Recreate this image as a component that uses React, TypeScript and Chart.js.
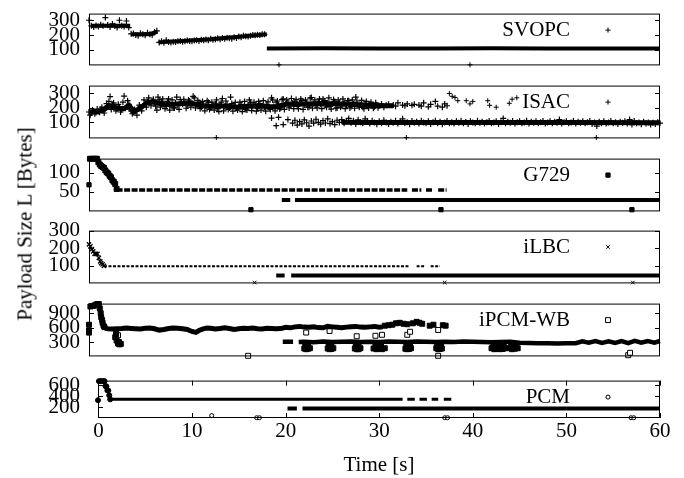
import { useEffect, useRef } from "react"
import { Chart, registerables } from "chart.js"
import { drawPoint } from "chart.js/helpers"

Chart.register(...registerables)

// ---------- data (time in s, payload size in bytes) ----------

const timeTicks = [0, 10, 20, 30, 40, 50, 60]

// SVOPC
const svopcTicks = [100, 200, 300]
const svopcEarlyStart = -1
const svopcEarlyStep = 0.25
const svopcEarly = [
  300, 262, 255, 265, 258, 270, 262, 318,
  268, 255, 275, 262, 250, 300, 262, 258,
  295, 250, 208, 210, 200, 195, 212, 205,
  198, 215, 205, 200, 220, 228, 150, 158,
  148, 165, 152, 150, 155, 152, 158, 160,
  155, 158, 162, 160, 158, 162, 165, 160,
  168, 165, 170, 165, 175, 168, 172, 178,
  172, 180, 175, 182, 178, 175, 185, 180,
  190, 185, 195, 192, 190, 195, 200, 198,
  202, 200, 205, 205,
]
const svopcLevelTime = [-0.8, 3.4, 3.45, 3.5, 5.5, 6.3, 6.4, 6.45, 12.0, 18.0]
const svopcLevelSize = [262, 262, null, 205, 205, 222, null, 150, 172, 205]
const svopcTailTime = [18, 24, 30, 36, 42, 48, 54, 60]
const svopcTailSize = [108, 110, 108, 109, 110, 108, 109, 108]
const svopcOddTime = [19.3, 39.7]
const svopcOddSize = [-2, -2]

// ISAC
const isacTicks = [100, 200, 300]
const isacUpperStart = -1
const isacUpperStep = 0.25
const isacUpper = [
  172, 165, 178, 168, 175, 190, 182, 200,
  215, 278, 225, 210, 195, 205, 188, 282,
  210, 225, 180, 168, 178, 195, 205, 212,
  230, 245, 238, 250, 235, 185, 255, 240,
  230, 210, 262, 222, 200, 235, 215, 258,
  225, 240, 215, 248, 230, 270, 222, 238,
  205, 225, 212, 240, 200, 218, 228, 195,
  222, 265, 210, 225, 200, 230, 215, 198,
  212, 225, 205, 190, 218, 235, 210, 222,
  198, 230, 215, 205, 225, 195, 270, 210,
  240, 218, 200, 262, 225, 238, 215, 232,
  245, 210, 228, 250, 220, 235, 205, 272,
  230, 215, 242, 225, 262, 218, 235, 210,
  228, 245, 200, 232, 215, 238, 220, 250,
  210, 228, 275, 215, 222, 205, 230, 212,
  225, 218, 208, 222, 215, 228, 205, 218,
  225, null, 220, 212, 235, null, 220, 215,
  228, null, 218, 225, null, 220, 212, 235,
  null, 208, 225, null, 245, 212, null, 205,
  228, 215,
]
const isacUpperExtraStart = -0.875
const isacUpperExtraStep = 0.25
const isacUpperExtra = [
  150, 185, 160, 192, 170, 205, 165, 230,
  245, 190, 235, 180, 225, 172, 240, 198,
  250, 192, 160, 190, 150, 220, 180, 255,
  205, 270, 215, 260, 212, 275, 205, 262,
  195, 245, 185, 255, 200, 275, 190, 240,
  260, 198, 255, 205, 280, 200, 252, 195,
  245, 180, 250, 190, 240, 185, 255, 175,
  240, 180, 248, 190, 275, 178, 238, 185,
  240, 175, 245, 185, 255, 182, 240, 178,
  245, 185, 250, 178, 242, 190, 255, 180,
  248, 192, 258, 190, 255, 200, 265, 195,
  258, 195, 262, 190, 255, 205, 268, 198,
  255, 200, 262, 195, 250, 205, 270, 192,
  258, 198, 255, 205, 262, 195, 250, 200,
  255, 198, 248, 205, 252, 195, 245, 200,
  240, 198, 235, 202,
]
const isacUpperLevelTime = [
  -1, 0, 0.5, 1.2, 2.0, 2.7, 3.3, 3.8, 4.5, 5.2, 6.0, 7.0, 8.0, 9.0, 10.0,
  11.0, 12.0, 13.0, 14.0, 15.0, 16.0, 17.0, 18.0, 19.0, 20.0, 22.0, 24.0, 26.0, 28.0, 30.0, 31.5,
]
const isacUpperLevelSize = [
  170, 175, 185, 215, 200, 195, 215, 175, 200, 235, 240, 222, 225, 230, 232,
  215, 212, 215, 210, 205, 212, 215, 210, 208, 225, 228, 230, 228, 222, 215, 215,
]
const isacSparseTime = [37.5, 37.8, 38.1, 38.4, 39.3, 39.7, 40.0, 41.6, 41.8, 42.5, 43.9, 44.2, 44.7]
const isacSparseSize = [300, 280, 272, 250, 250, 228, 245, 250, 218, 205, 232, 260, 270]
const isacLowerStart = 18.5
const isacLowerStep = 0.25
const isacLower = [
  130, null, 78, 135, null, 85, null, 120,
  null, 95, 115, 82, 105, 90, 118, 98,
  75, 110, 95, 122, 100, 88, 112, 96,
  125, 92, 105, 85, 115, 100, 120, 95,
  108, 128, 98, 112, 90, 118, 102, 95,
  125, 108, 92, 112, 100, 88, 108, 95,
  115, 100, 90, 105, 98, 112, 92, 105,
  125, 95, 102, 88, 110, 98, 105, 92,
  112, 100, 95, 108, 90, 102, 112, 95,
  105, 88, 100, 110, 95, 102, 92, 108,
  98, 112, 95, 103, 90, 108, 100, 95,
  112, 98, 105, 92, 102, 110, 95, 100,
  108, 90, 102, 128, 95, 105, 98, 110,
  92, 102, 108, 95, 100, 112, 92, 105,
  98, 108, 95, 102, 110, 92, 100, 108,
  95, 105, 98, 120, 92, 102, 108, 95,
  100, 110, 92, 105, 98, 108, 95, 102,
  110, 90, 100, 75, 105, 95, 108, 92,
  100, 110, 95, 102, 90, 105, 98, 108,
  92, 120, 85, 110, 95, 100, 88, 105,
  92, 100, 85, 98, 90, 102, 95,
]
const isacLowerLevelTime = [26.0, 29.0, 40.0, 50.0, 60.0]
const isacLowerLevelSize = [102, 100, 100, 100, 98]
const isacOddTime = [12.6, 32.9, 53.2]
const isacOddSize = [-4, -4, -4]

// G729
const g729Ticks = [50, 100]
const g729StartTime = [-0.9, -0.7, -0.5, -0.3, -0.15, 0.0, 0.15, 0.3, 0.45, 0.6, 0.75, 0.9, 1.05, 1.2, 1.35, 1.5, 1.65, 1.8, 1.95]
const g729StartSize = [137, 137, 137, 137, 137, 128, 122, 118, 115, 113, 106, 101, 98, 92, 88, 80, 76, 70, 57]
const g729UpperTime = [1.95, 33.0, 33.25, 33.5, 34.5, 34.75, 35.0, 35.7, 36.0, 36.3, 37.2]
const g729UpperSize = [54, 54, null, 54, 54, null, 54, 54, null, 54, 54]
const g729LowerTime = [19.6, 20.5, 20.75, 21.0, 60]
const g729LowerSize = [28, 28, null, 28, 28]
const g729OddTime = [-1.0, 16.3, 36.6, 57.0]
const g729OddSize = [68, 2, 2, 2]

// iLBC
const ilbcTicks = [100, 200, 300]
const ilbcStartTime = [-1.0, -0.85, -0.7, -0.55, -0.4, -0.25, -0.1, 0.05, 0.2, 0.3, 0.45, 0.6]
const ilbcStartSize = [222, 210, 195, 182, 168, 168, 168, 145, 125, 115, 108, 100]
const ilbcUpperTime = [0.6, 33.2, 33.45, 34.0, 34.8, 35.1, 35.5, 36.5]
const ilbcUpperSize = [97, 97, null, 97, 97, null, 97, 97]
const ilbcLowerTime = [19.0, 19.9, 20.25, 20.6, 60]
const ilbcLowerSize = [45, 45, null, 45, 45]
const ilbcOddTime = [16.7, 37.0, 57.1]
const ilbcOddSize = [5, 5, 5]

// iPCM-WB
const ipcmTicks = [300, 600, 900]
const ipcmStartTime = [-1.0, -1.0, -1.0, -0.85, -0.7, -0.55, -0.4, -0.25, -0.1, 0.05, 0.15, 0.25, 0.3, 0.4, 0.45, 0.55, 0.65]
const ipcmStartSize = [660, 540, 495, 1040, 1050, 1055, 1060, 1080, 1090, 1090, 1000, 900, 820, 760, 700, 640, 610]
const ipcmUpperTime = [
  0.7, 1.0, 1.5, 2.0, 2.5, 3.0, 3.5, 4.0, 4.5, 5.0, 5.5, 6.0, 6.5, 7.0, 7.5, 8.0, 8.5, 9.0, 9.5, 10.0,
  10.4, 10.8, 11.2, 11.6, 12.0, 12.5, 13.0, 13.5, 14.0, 14.5, 15.0, 15.5, 16.0, 16.5, 17.0, 17.5, 18.0,
  18.5, 19.0, 19.5, 20.0, 20.5, 21.0, 21.5, 22.0, 22.5, 23.0, 23.5, 24.0, 24.5, 25.0, 25.5, 26.0, 26.5,
  27.0, 27.5, 28.0, 28.5, 29.0, 29.5, 30.0, 30.4,
]
const ipcmUpperSize = [
  585, 575, 570, 575, 580, 590, 582, 575, 570, 585,
  592, 575, 548, 560, 580, 590, 585, 575, 560, 520,
  500, 545, 575, 590, 585, 570, 580, 595, 580, 560,
  575, 585, 580, 590, 575, 570, 585, 580, 575, 580,
  605, 595, 615, 625, 610, 605, 615, 600, 595, 625,
  615, 605, 595, 610, 620, 625, 610, 605, 615, 625,
  610, 615,
]
const ipcmSparseTime = [30.6, 31.0, 31.4, 31.8, 32.2, 32.6, 33.0, 33.6, 34.0, 34.3, 34.6, 35.4, 35.8, 36.8, 37.1]
const ipcmSparseSize = [640, 650, 660, 690, 700, 680, 670, 690, 720, 700, 680, 640, 660, 650, 640]
const ipcmLowerTime = [
  19.7, 20.8, 21.1, 21.4,
  22, 23, 24, 25, 26, 27, 28, 29, 30, 31, 32, 33, 34, 35, 36, 37, 38, 39, 40, 41, 42, 43, 44, 45, 46, 47, 48, 49, 50, 51,
  51.7, 52.4, 53.1, 53.8, 54.5, 55.2, 55.9, 56.6, 57.3, 58.0, 58.7, 59.4, 60.0,
]
const ipcmLowerSize = [
  305, 305, null, 300,
  305, 295, 310, 300, 305, 310, 300, 305, 300, 310, 305, 300, 310, 305, 300,
  305, 300, 310, 305, 300, 295, 300, 305, 285, 280, 275, 272, 270, 272, 275,
  315, 285, 318, 282, 315, 280, 320, 278, 322, 285, 318, 288, 320,
]
const ipcmDipTime = [
  1.8, 1.95, 2.1, 2.25, 2.4, 1.9, 2.2,
  22.0, 22.2, 22.4, 22.6, 22.1, 22.4,
  24.5, 24.7, 24.9, 25.1, 24.6, 24.9,
  27.4, 27.6, 27.8, 28.0, 27.5, 27.8,
  29.4, 29.7, 30.0, 30.3, 30.6, 29.6, 30.2,
  32.8, 33.0, 33.2, 33.4, 32.9, 33.3,
  36.1, 36.3, 36.5, 36.7, 36.2, 36.6,
  42.0, 42.3, 42.6, 42.9, 43.2, 43.4, 42.2, 42.8, 43.3,
  43.9, 44.2, 44.5, 44.8, 44.1, 44.6,
]
const ipcmDipSize = [
  400, 330, 270, 250, 260, 460, 300,
  165, 150, 160, 170, 230, 220,
  165, 150, 155, 170, 230, 225,
  165, 150, 150, 170, 230, 225,
  165, 150, 160, 150, 170, 230, 225,
  160, 150, 155, 170, 230, 225,
  170, 150, 155, 165, 235, 225,
  170, 150, 160, 150, 155, 170, 230, 225, 230,
  170, 150, 160, 170, 230, 225,
]
const ipcmOpenTime = [1.9, 2.1, 22.2, 24.7, 27.6, 29.6, 30.3, 33.0, 33.3, 36.3, 56.8]
const ipcmOpenSize = [470, 440, 497, 530, 420, 430, 450, 450, 513, 550, 75]
const ipcmOddTime = [16.0, 36.3, 56.6]
const ipcmOddSize = [12, 12, 25]

// PCM
const pcmTicks = [200, 400, 600]
const pcmStartTime = [-0.05, 0.05, 0.2, 0.35, 0.5, 0.65, 0.75, 0.85, 0.95, 1.05, 1.15, 1.25]
const pcmStartSize = [330, 675, 675, 675, 675, 675, 585, 580, 508, 505, 418, 345]
const pcmUpperTime = [1.25, 32.5, 32.75, 33.0, 33.8, 34.05, 34.3, 35.1, 35.35, 35.6, 36.3, 36.6, 36.9, 37.7]
const pcmUpperSize = [345, 345, null, 345, 345, null, 345, 345, null, 345, 345, null, 345, 345]
const pcmLowerTime = [20.2, 21.2, 21.5, 21.8, 60]
const pcmLowerSize = [177, 177, null, 177, 177]
const pcmOddTime = [12.1, 16.9, 17.2, 37.0, 37.3, 56.9, 57.2]
const pcmOddSize = [50, 12, 12, 12, 12, 12, 12]

// ---------- look ----------

const WIDTH = 684
const HEIGHT = 478
const PAD = 20
const PLOT_RIGHT = 660
const KEY_TEXT_X = 570
const KEY_MARK_X = 608
const FONT_FAMILY = "'Liberation Serif', 'Times New Roman', serif"
const FONT_SIZE = 21

Chart.defaults.font.family = FONT_FAMILY
Chart.defaults.font.size = FONT_SIZE
Chart.defaults.color = "#000"

type Pt = { x: number; y: number | null }

const pts = (time: number[], size: (number | null)[]): Pt[] =>
  time.map((t, i) => ({ x: t, y: size[i] }))

const sampled = (start: number, step: number, size: (number | null)[]): Pt[] =>
  size.map((v, i) => ({ x: start + i * step, y: v }))

const strip = (data: Pt[], width: number, dash: number[] = []) => ({
  data,
  showLine: true,
  spanGaps: false,
  pointRadius: 0,
  borderColor: "#000",
  borderWidth: width,
  borderDash: dash,
  clip: 4,
})

const marks = (data: Pt[], style: string, radius: number, fill = "#000", width = 1) => ({
  data,
  showLine: false,
  pointStyle: style,
  pointRadius: radius,
  pointBorderWidth: width,
  pointBorderColor: "#000",
  pointBackgroundColor: fill,
  clip: 4,
})

interface PanelSpec {
  label: string
  top: number
  bottom: number
  left: number
  xMin: number
  yMin: number
  yMax: number
  yTicks: number[]
  keyStyle: string
  keyRadius: number
  keyFill: string
  datasets: any[]
  showTime?: boolean
}

const panels: PanelSpec[] = [
  {
    label: "SVOPC", top: 12, bottom: 67, left: 89, xMin: -1, yMin: -6, yMax: 345, yTicks: svopcTicks,
    keyStyle: "cross", keyRadius: 2.5, keyFill: "#000",
    datasets: [
      strip(pts(svopcLevelTime, svopcLevelSize), 4),
      marks(sampled(svopcEarlyStart, svopcEarlyStep, svopcEarly), "cross", 3, "#000", 1.2),
      strip(pts(svopcTailTime, svopcTailSize), 4),
      marks(pts(svopcOddTime, svopcOddSize), "cross", 2.5),
    ],
  },
  {
    label: "ISAC", top: 84, bottom: 140, left: 89, xMin: -1, yMin: -10, yMax: 354, yTicks: isacTicks,
    keyStyle: "cross", keyRadius: 2.5, keyFill: "#000",
    datasets: [
      strip(pts(isacUpperLevelTime, isacUpperLevelSize), 5),
      marks(sampled(isacUpperStart, isacUpperStep, isacUpper), "cross", 3, "#000", 1.2),
      marks(sampled(isacUpperExtraStart, isacUpperExtraStep, isacUpperExtra), "cross", 3, "#000", 1.2),
      marks(pts(isacSparseTime, isacSparseSize), "cross", 2.5),
      strip(pts(isacLowerLevelTime, isacLowerLevelSize), 5),
      marks(sampled(isacLowerStart, isacLowerStep, isacLower), "cross", 3, "#000", 1.2),
      marks(pts(isacOddTime, isacOddSize), "cross", 2.5),
    ],
  },
  {
    label: "G729", top: 157, bottom: 213, left: 89, xMin: -1, yMin: -2.5, yMax: 137.5, yTicks: g729Ticks,
    keyStyle: "rect", keyRadius: 3, keyFill: "#000",
    datasets: [
      marks(pts(g729StartTime, g729StartSize), "rect", 3.5),
      strip(pts(g729UpperTime, g729UpperSize), 3.5, [6, 1.5]),
      strip(pts(g729LowerTime, g729LowerSize), 4),
      marks(pts(g729OddTime, g729OddSize), "rect", 3),
    ],
  },
  {
    label: "iLBC", top: 229, bottom: 285, left: 89, xMin: -1, yMin: 0, yMax: 300, yTicks: ilbcTicks,
    keyStyle: "crossRot", keyRadius: 2.5, keyFill: "#000",
    datasets: [
      marks(pts(ilbcStartTime, ilbcStartSize), "crossRot", 3, "#000", 1.3),
      strip(pts(ilbcUpperTime, ilbcUpperSize), 2, [3, 1.5]),
      strip(pts(ilbcLowerTime, ilbcLowerSize), 4),
      marks(pts(ilbcOddTime, ilbcOddSize), "crossRot", 2.5),
    ],
  },
  {
    label: "iPCM-WB", top: 302, bottom: 358, left: 89, xMin: -1, yMin: 0, yMax: 1100, yTicks: ipcmTicks,
    keyStyle: "rect", keyRadius: 3.5, keyFill: "#fff",
    datasets: [
      strip(pts(ipcmUpperTime, ipcmUpperSize), 5),
      strip(pts(ipcmLowerTime, ipcmLowerSize), 4.5),
      marks(pts(ipcmStartTime, ipcmStartSize), "rect", 3.5),
      marks(pts(ipcmSparseTime, ipcmSparseSize), "rect", 3.5),
      marks(pts(ipcmDipTime, ipcmDipSize), "rect", 3.5),
      marks(pts(ipcmOpenTime, ipcmOpenSize), "rect", 3.5, "#fff"),
      marks(pts(ipcmOddTime, ipcmOddSize), "rect", 3.5, "#fff"),
    ],
  },
  {
    label: "PCM", top: 370, bottom: 418, left: 98, xMin: -0.05, yMin: 7, yMax: 685, yTicks: pcmTicks,
    keyStyle: "circle", keyRadius: 2, keyFill: "#fff", showTime: true,
    datasets: [
      marks(pts(pcmStartTime, pcmStartSize), "circle", 2.5),
      strip(pts(pcmUpperTime, pcmUpperSize), 3),
      strip(pts(pcmLowerTime, pcmLowerSize), 4),
      marks(pts(pcmOddTime, pcmOddSize), "circle", 2, "#fff"),
    ],
  },
]

// border box with inward tick marks, like the gnuplot original
const framePlugin = {
  id: "frame",
  afterDatasetsDraw(chart: Chart, _args: unknown, opts: { timeTicks?: boolean }) {
    const { ctx, chartArea: a, scales } = chart
    ctx.save()
    ctx.strokeStyle = "#000"
    ctx.lineWidth = 1
    ctx.strokeRect(a.left + 0.5, a.top + 0.5, a.right - a.left - 1, a.bottom - a.top - 1)
    ctx.beginPath()
    for (const t of scales.y.ticks) {
      const y = Math.round(scales.y.getPixelForValue(t.value)) + 0.5
      ctx.moveTo(a.left, y)
      ctx.lineTo(a.left + 5, y)
      ctx.moveTo(a.right - 5, y)
      ctx.lineTo(a.right, y)
    }
    if (opts.timeTicks) {
      for (const t of scales.x.ticks) {
        const x = Math.round(scales.x.getPixelForValue(t.value)) + 0.5
        ctx.moveTo(x, a.bottom)
        ctx.lineTo(x, a.bottom - 5)
        ctx.moveTo(x, a.top)
        ctx.lineTo(x, a.top + 5)
      }
    }
    ctx.stroke()
    ctx.restore()
  },
}

// key: name, then a sample of the point type to its right
const keyPlugin = {
  id: "key",
  afterDatasetsDraw(chart: Chart, _args: unknown, opts: { text: string; style: string; radius: number; fill: string }) {
    const { ctx, chartArea } = chart
    ctx.save()
    ctx.font = `${FONT_SIZE}px ${FONT_FAMILY}`
    ctx.fillStyle = "#000"
    ctx.textAlign = "right"
    ctx.textBaseline = "middle"
    ctx.fillText(opts.text, KEY_TEXT_X, chartArea.top + 17)
    ctx.strokeStyle = "#000"
    ctx.fillStyle = opts.fill
    ctx.lineWidth = 1
    drawPoint(ctx, { pointStyle: opts.style as any, radius: opts.radius, rotation: 0, borderWidth: 1 }, KEY_MARK_X, chartArea.top + 16.5)
    ctx.restore()
  },
}

function Panel({ spec }: { spec: PanelSpec }) {
  const chartRef = useRef<HTMLCanvasElement>(null)
  const canvasTop = spec.top - PAD
  const canvasHeight = spec.showTime ? HEIGHT - canvasTop : spec.bottom - spec.top + 2 * PAD

  useEffect(() => {
    if (!chartRef.current) return

    const chart = new Chart(chartRef.current, {
      type: "scatter",
      data: { datasets: spec.datasets },
      options: {
        responsive: false,
        animation: false,
        events: [],
        layout: {
          padding: { top: PAD, bottom: spec.showTime ? 0 : PAD, left: 0, right: WIDTH - PLOT_RIGHT },
        },
        scales: {
          x: {
            type: "linear",
            display: !!spec.showTime,
            min: spec.xMin,
            max: 60,
            afterBuildTicks: (scale: any) => {
              scale.ticks = timeTicks.map((v) => ({ value: v }))
            },
            afterFit: (scale: any) => {
              if (spec.showTime) scale.height = HEIGHT - spec.bottom
            },
            grid: { display: false, drawTicks: false },
            border: { display: false },
            ticks: { padding: 1, maxRotation: 0, autoSkip: false, color: "#000", callback: (v: any) => String(v) },
            title: {
              display: true,
              text: "Time [s]",
              color: "#000",
              padding: { top: 0, bottom: 0 },
            },
          },
          y: {
            type: "linear",
            min: spec.yMin,
            max: spec.yMax,
            afterBuildTicks: (scale: any) => {
              scale.ticks = spec.yTicks.map((v) => ({ value: v }))
            },
            afterFit: (scale: any) => {
              scale.width = spec.left
            },
            grid: { display: false, drawTicks: false },
            border: { display: false },
            ticks: { padding: spec.left - 80, autoSkip: false, color: "#000", callback: (v: any) => String(v) },
          },
        },
        plugins: {
          legend: { display: false },
          tooltip: { enabled: false },
          frame: { timeTicks: !!spec.showTime },
          key: { text: spec.label, style: spec.keyStyle, radius: spec.keyRadius, fill: spec.keyFill },
        } as any,
      },
      plugins: [framePlugin as any, keyPlugin as any],
    })

    return () => {
      chart.destroy()
    }
  }, [spec])

  return (
    <canvas
      ref={chartRef}
      width={WIDTH}
      height={canvasHeight}
      style={{ position: "absolute", left: 0, top: canvasTop, width: WIDTH, height: canvasHeight }}
    />
  )
}

export default function App() {
  return (
    <div style={{ position: "absolute", left: 0, top: 0, width: WIDTH, height: HEIGHT, background: "#fff", overflow: "hidden" }}>
      {panels.map((p) => (
        <Panel key={p.label} spec={p} />
      ))}
      <div
        style={{
          position: "absolute",
          left: 24.5,
          top: 224,
          transform: "translate(-50%, -50%) rotate(-90deg)",
          font: `${FONT_SIZE}px ${FONT_FAMILY}`,
          lineHeight: 1,
          whiteSpace: "nowrap",
          color: "#000",
        }}
      >
        Payload Size L [Bytes]
      </div>
    </div>
  )
}
